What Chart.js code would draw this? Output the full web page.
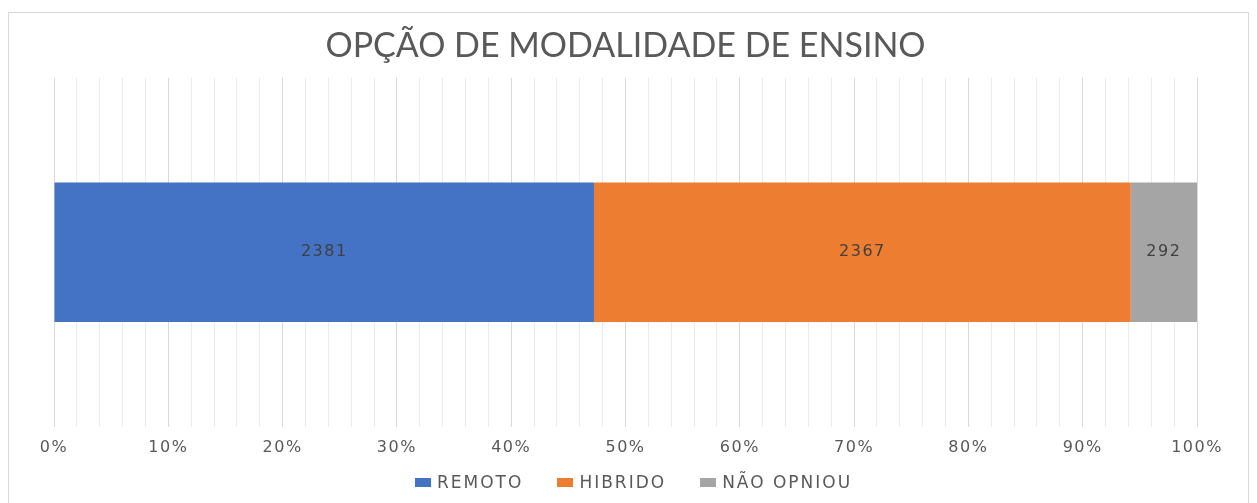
<!DOCTYPE html>
<html lang="pt">
<head>
<meta charset="utf-8">
<title>Opção de modalidade de ensino</title>
<script src="https://cdn.jsdelivr.net/npm/chart.js@4"></script>
<style>
    html, body { margin: 0; padding: 0; background: #fff; }
    body { width: 1257px; height: 503px; position: relative; overflow: hidden; }
    .frame {
        position: absolute; left: 8px; top: 12px; width: 1241px; height: 500px;
        border: 1px solid #d9d9d9; box-sizing: border-box;
    }
    #chartWrap { position: absolute; left: 0; top: 0; width: 1257px; height: 503px; }
    #legend {
        position: absolute; left: 415px; top: 472px; height: 20px;
        display: flex; align-items: center; gap: 34px;
        font: 17px "DejaVu Sans", sans-serif; letter-spacing: 2px; color: #595959;
        line-height: 20px;
    }
    #legend .item { display: flex; align-items: center; }
    #legend .swatch { width: 16px; height: 9px; margin-right: 6px; }
</style>
</head>
<body>
<div class="frame"></div>
<div id="chartWrap"><canvas id="modalidadeChart"></canvas></div>
<div id="legend"></div>
<script>
// Data
const categories = ['Opção'];
const seriesNames = ['REMOTO', 'HIBRIDO', 'NÃO OPNIOU'];
const seriesCounts = [2381, 2367, 292];
const seriesColors = ['#4472C4', '#ED7D31', '#A5A5A5'];
const tickStep = 2;   // minor grid every 2%, labels every 10%

const total = seriesCounts.reduce((a, b) => a + b, 0);
const TITLE_FONT = 'Lato, "Open Sans", sans-serif';
const SMALL_FONT = '"DejaVu Sans", sans-serif';

// Title is drawn tight, tick labels and counts get a little extra spacing
const spacing = {
    id: 'spacing',
    beforeDraw(chart) { chart.ctx.letterSpacing = '0px'; },
    beforeDatasetsDraw(chart) { chart.ctx.letterSpacing = '1.5px'; }
};

// Draw the raw counts in the middle of each segment
const countLabels = {
    id: 'countLabels',
    afterDatasetsDraw(chart) {
        const ctx = chart.ctx;
        ctx.save();
        ctx.font = `16px ${SMALL_FONT}`;
        ctx.letterSpacing = '1.5px';
        ctx.fillStyle = '#404040';
        ctx.textAlign = 'center';
        ctx.textBaseline = 'middle';
        chart.data.datasets.forEach((ds, i) => {
            const meta = chart.getDatasetMeta(i);
            meta.data.forEach(bar => {
                const { x, base, y } = bar.getProps(['x', 'base', 'y'], true);
                ctx.fillText(String(seriesCounts[i]), (x + base) / 2, y);
            });
        });
        ctx.restore();
    }
};

const datasets = seriesNames.map((name, i) => ({
    label: name,
    data: [seriesCounts[i] / total * 100],
    backgroundColor: seriesColors[i],
    borderWidth: 0,
    barPercentage: 0.4,
    categoryPercentage: 1
}));

const chart = new Chart(document.getElementById('modalidadeChart'), {
    type: 'bar',
    data: { labels: categories, datasets },
    plugins: [spacing, countLabels],
    options: {
        indexAxis: 'y',
        responsive: true,
        maintainAspectRatio: false,
        animation: false,
        layout: { padding: { left: 54, right: 60, top: 16, bottom: 35 } },
        plugins: {
            title: {
                display: true,
                text: 'OPÇÃO DE MODALIDADE DE ENSINO',
                color: '#595959',
                font: { family: TITLE_FONT, size: 34, weight: 'normal' },
                padding: { top: 10, bottom: 11 }
            },
            legend: { display: false },
            tooltip: { enabled: false }
        },
        scales: {
            x: {
                stacked: true,
                min: 0,
                max: 100,
                border: { display: false },
                grid: {
                    drawTicks: false,
                    color: c => (c.tick && c.tick.value % 10 === 0) ? '#d9d9d9' : '#ebebeb',
                    lineWidth: 1
                },
                ticks: {
                    z: 1,
                    stepSize: tickStep,
                    autoSkip: false,
                    maxRotation: 0,
                    padding: 11,
                    color: '#595959',
                    font: { family: SMALL_FONT, size: 16 },
                    callback: v => v % 10 === 0 ? v + '%' : ''
                }
            },
            y: {
                stacked: true,
                display: false
            }
        }
    }
});

// Legend under the axis, built from the chart's datasets
const legendEl = document.getElementById('legend');
chart.data.datasets.forEach(ds => {
    const item = document.createElement('span');
    item.className = 'item';
    item.innerHTML = `<span class="swatch" style="background:${ds.backgroundColor}"></span>${ds.label}`;
    legendEl.appendChild(item);
});
</script>
</body>
</html>
